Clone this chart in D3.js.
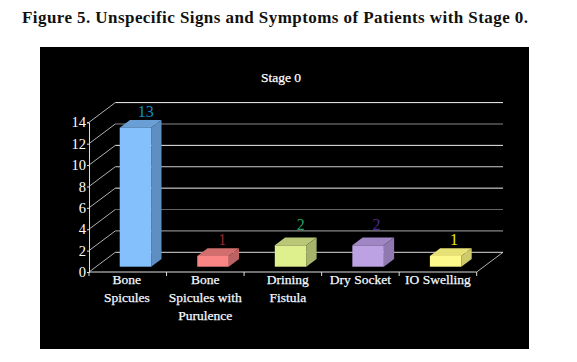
<!DOCTYPE html>
<html>
<head>
<meta charset="utf-8">
<script src="https://d3js.org/d3.v7.min.js"></script>
<style>
    html, body { margin: 0; padding: 0; background: #fff; }
    svg { display: block; }
    text { font-family: "Liberation Serif", serif; }
</style>
</head>
<body>
<svg id="chart" width="577" height="362"></svg>
<script>
const categories = ["Bone Spicules", "Bone Spicules with Purulence", "Drining Fistula", "Dry Socket", "IO Swelling"];
const labelLines = [["Bone", "Spicules"], ["Bone", "Spicules with", "Purulence"], ["Drining", "Fistula"], ["Dry Socket"], ["IO Swelling"]];
const values = [13, 1, 2, 2, 1];
const faceColors = ["#84c0fb", "#fb8585", "#deef8e", "#bca2e3", "#fdf98a"];
const topColors = ["#6a9fd6", "#d26e6e", "#b9c777", "#a087c4", "#e8e276"];
const sideColors = ["#5f8fc2", "#bd6262", "#a6b36a", "#9079b0", "#d0cb6a"];
const valueColors = ["#0c8fc6", "#8c2a30", "#23a062", "#4a2a8e", "#e6e800"];
const yTicks = [0, 2, 4, 6, 8, 10, 12, 14];

const svg = d3.select("#chart");

// title above the black panel
svg.append("text")
    .attr("x", 22).attr("y", 23)
    .attr("font-size", 17).attr("font-weight", "bold")
    .attr("textLength", 506).attr("fill", "#111")
    .text("Figure 5. Unspecific Signs and Symptoms of Patients with Stage 0.");

svg.append("rect")
    .attr("x", 40).attr("y", 47)
    .attr("width", 489).attr("height", 302)
    .attr("fill", "#000");

svg.append("text")
    .attr("x", 281).attr("y", 82)
    .attr("text-anchor", "middle")
    .attr("font-size", 13.5)
    .attr("fill", "#fff").attr("stroke", "#fff").attr("stroke-width", 0.25)
    .text("Stage 0");

const x = d3.scaleBand().domain(categories).range([89, 476.7]);
const y = d3.scaleLinear().domain([0, 14]).range([272, 122.3]);

// depth of the 3d box the chart sits in
const depthX = 26.3, depthY = -19.7;

// back wall gridlines and the slanted lines on the left wall
const g = svg.append("g");
g.selectAll(".grid")
    .data(yTicks)
    .enter().append("line")
    .attr("x1", 89 + depthX)
    .attr("x2", 476.7 + depthX)
    .attr("y1", (d) => y(d) + depthY)
    .attr("y2", (d) => y(d) + depthY)
    .attr("stroke", (d, i) => ["#ddd", "#aaa", "#666", "#eee", "#ccc", "#eee", "#888", "#f4f4f4"][i])
    .attr("stroke-width", 1);
g.selectAll(".wall")
    .data(yTicks)
    .enter().append("line")
    .attr("x1", 89)
    .attr("x2", 89 + depthX)
    .attr("y1", (d) => y(d))
    .attr("y2", (d) => y(d) + depthY)
    .attr("stroke", "#ddd")
    .attr("stroke-width", 0.8);
// floor edge on the right
g.append("line")
    .attr("x1", 476.7).attr("y1", y(0))
    .attr("x2", 476.7 + depthX).attr("y2", y(0) + depthY)
    .attr("stroke", "#ddd").attr("stroke-width", 0.8);

// axes
const yAxis = svg.append("g")
    .attr("transform", "translate(89,0)")
    .call(d3.axisLeft(y).tickValues(yTicks).tickSize(2).tickPadding(1));
yAxis.selectAll("text").attr("font-size", 14.5).attr("fill", "#fff").attr("font-family", "Liberation Serif");
yAxis.selectAll("line").attr("stroke", "#ddd");
yAxis.select(".domain").attr("stroke", "#ddd");

const xAxis = svg.append("g")
    .attr("transform", "translate(0," + y(0) + ")")
    .call(d3.axisBottom(x).tickSize(-3).tickFormat(""));
xAxis.selectAll(".tick").remove();
xAxis.select(".domain").attr("stroke", "#ddd").attr("d", "M89,0H476.7");
xAxis.selectAll(".sep")
    .data(d3.range(categories.length + 1))
    .enter().append("line")
    .attr("class", "sep")
    .attr("x1", (d) => 89 + d * x.step())
    .attr("x2", (d) => 89 + d * x.step())
    .attr("y1", 0)
    .attr("y2", 4)
    .attr("stroke", "#ddd");

// bars
const barWidth = 31.5;
const barDx = 10.3, barDy = -7.8;
const floorDx = 7.7, floorDy = -5.3;
const bars = svg.selectAll(".bar")
    .data(categories)
    .enter().append("g")
    .attr("class", "bar");

const left = (d) => x(d) + (x.step() - barWidth) / 2 + floorDx;
const val = (d) => values[categories.indexOf(d)];
const idx = (d) => categories.indexOf(d);
const pts = (arr) => arr.map((p) => p.join(",")).join(" ");
const barTop = (d) => y(val(d)) + floorDy;

bars.append("polygon")
    .attr("points", (d) => {
        const l = left(d), t = barTop(d);
        return pts([[l, t], [l + barDx, t + barDy], [l + barWidth + barDx, t + barDy], [l + barWidth, t]]);
    })
    .attr("fill", (d) => topColors[idx(d)]);
bars.append("polygon")
    .attr("points", (d) => {
        const r = left(d) + barWidth, t = barTop(d), b = y(0) + floorDy;
        return pts([[r, t], [r + barDx, t + barDy], [r + barDx, b + barDy], [r, b]]);
    })
    .attr("fill", (d) => sideColors[idx(d)]);
bars.append("rect")
    .attr("x", left)
    .attr("y", barTop)
    .attr("width", barWidth)
    .attr("height", (d) => y(0) - y(val(d)))
    .attr("fill", (d) => faceColors[idx(d)]);

// value labels, the two "2" labels float a bit higher in the original
bars.append("text")
    .attr("x", (d) => left(d) + barWidth / 2 + barDx + [0, -1, 0, -2, -2][idx(d)])
    .attr("y", (d) => barTop(d) + barDy - (val(d) === 2 ? 8 : 3))
    .attr("text-anchor", "middle")
    .attr("font-size", 16)
    .attr("fill", (d) => valueColors[idx(d)])
    .text((d) => val(d));

// category labels
const catLabels = svg.selectAll(".cat")
    .data(categories)
    .enter().append("text")
    .attr("class", "cat")
    .attr("text-anchor", "middle")
    .attr("font-size", 13.5)
    .attr("fill", "#fff")
    .attr("stroke", "#e6f0ff")
    .attr("stroke-width", 0.25);
catLabels.selectAll("tspan")
    .data((d) => labelLines[idx(d)].map((t) => ({t: t, c: d})))
    .enter().append("tspan")
    .attr("x", (d) => x(d.c) + x.step() / 2 + [-1, 0, 5, 0, 0][idx(d.c)])
    .attr("y", (d, i) => 284 + i * 18)
    .text((d) => d.t);
</script>
</body>
</html>
